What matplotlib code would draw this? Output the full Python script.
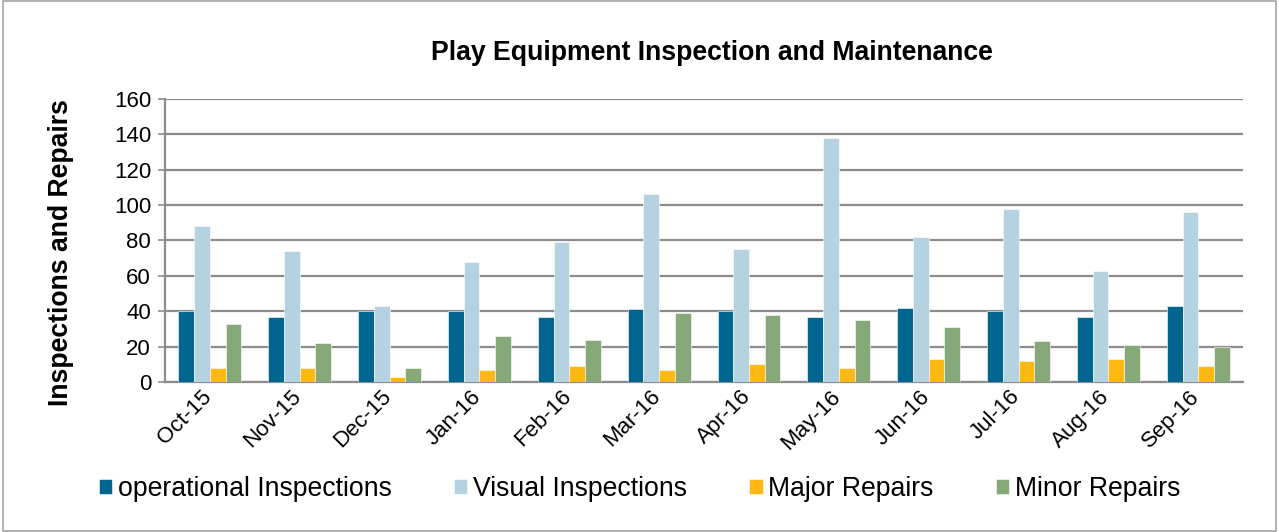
import matplotlib
matplotlib.use("Agg")
import matplotlib.pyplot as plt
import matplotlib.transforms as mtransforms
import numpy as np
from matplotlib.patches import Rectangle

months = ["Oct-15", "Nov-15", "Dec-15", "Jan-16", "Feb-16", "Mar-16",
          "Apr-16", "May-16", "Jun-16", "Jul-16", "Aug-16", "Sep-16"]
operational = [40, 37, 40, 40, 37, 41, 40, 37, 42, 40, 37, 43]
visual = [88, 74, 43, 68, 79, 106, 75, 138, 82, 98, 63, 96]
major = [8, 8, 3, 7, 9, 7, 10, 8, 13, 12, 13, 9]
minor = [33, 22, 8, 26, 24, 39, 38, 35, 31, 23, 21, 20]

series = [
    ("operational Inspections", operational, "#006690"),
    ("Visual Inspections", visual, "#B4D2E0"),
    ("Major Repairs", major, "#FDB813"),
    ("Minor Repairs", minor, "#87A878"),
]

plt.rcParams['font.family'] = ['Liberation Sans', 'DejaVu Sans']

fig = plt.figure(figsize=(12.79, 5.32), dpi=100)
ax = fig.add_axes([0.129, 0.282, 0.843, 0.532])

x = np.arange(len(months))
w = 0.175
for i, (name, vals, col) in enumerate(series):
    ax.bar(x + (i - 1.5) * w, vals, w, color=col, label=name,
           edgecolor="white", linewidth=0.4, zorder=3)

ax.set_xlim(-0.5, len(months) - 0.5)
ax.set_ylim(0, 160)
ax.set_yticks(range(0, 161, 20))
ax.yaxis.grid(True, color="#8c8c8c", linewidth=1.6, zorder=0)
ax.set_axisbelow(True)
for s in ["top", "right"]:
    ax.spines[s].set_visible(False)
for s in ["left", "bottom"]:
    ax.spines[s].set_color("#8c8c8c")
    ax.spines[s].set_linewidth(1.6)
ax.tick_params(axis="y", labelsize=16, length=5, color="#8c8c8c", width=1.2, pad=5)
ax.tick_params(axis="x", length=0, labelsize=16, pad=3)
ax.set_xticks(x)
ax.set_xticklabels(months, rotation=45, ha="right", rotation_mode="anchor")
shift = mtransforms.ScaledTranslation(-9 / 100, 0, fig.dpi_scale_trans)
for lbl in ax.get_xticklabels():
    lbl.set_transform(lbl.get_transform() + shift)

fig.text(0.557, 0.900, "Play Equipment Inspection and Maintenance",
         ha="center", va="center", fontsize=19.2, fontweight="bold")
fig.text(0.048, 0.526, "Inspections and Repairs", rotation=90,
         ha="center", va="center", fontsize=19.2, fontweight="bold")

fig.legend(loc="center", bbox_to_anchor=(0.50, 0.081), ncol=4, frameon=False,
           fontsize=19.2, handlelength=0.5, handleheight=0.5, handletextpad=0.2,
           columnspacing=2.35)

fig.patches.append(Rectangle((0.002, 0.002), 0.996, 0.996, transform=fig.transFigure,
                             fill=False, edgecolor="#a6a6a6", linewidth=1.2))

fig.savefig("out.png", dpi=100)
